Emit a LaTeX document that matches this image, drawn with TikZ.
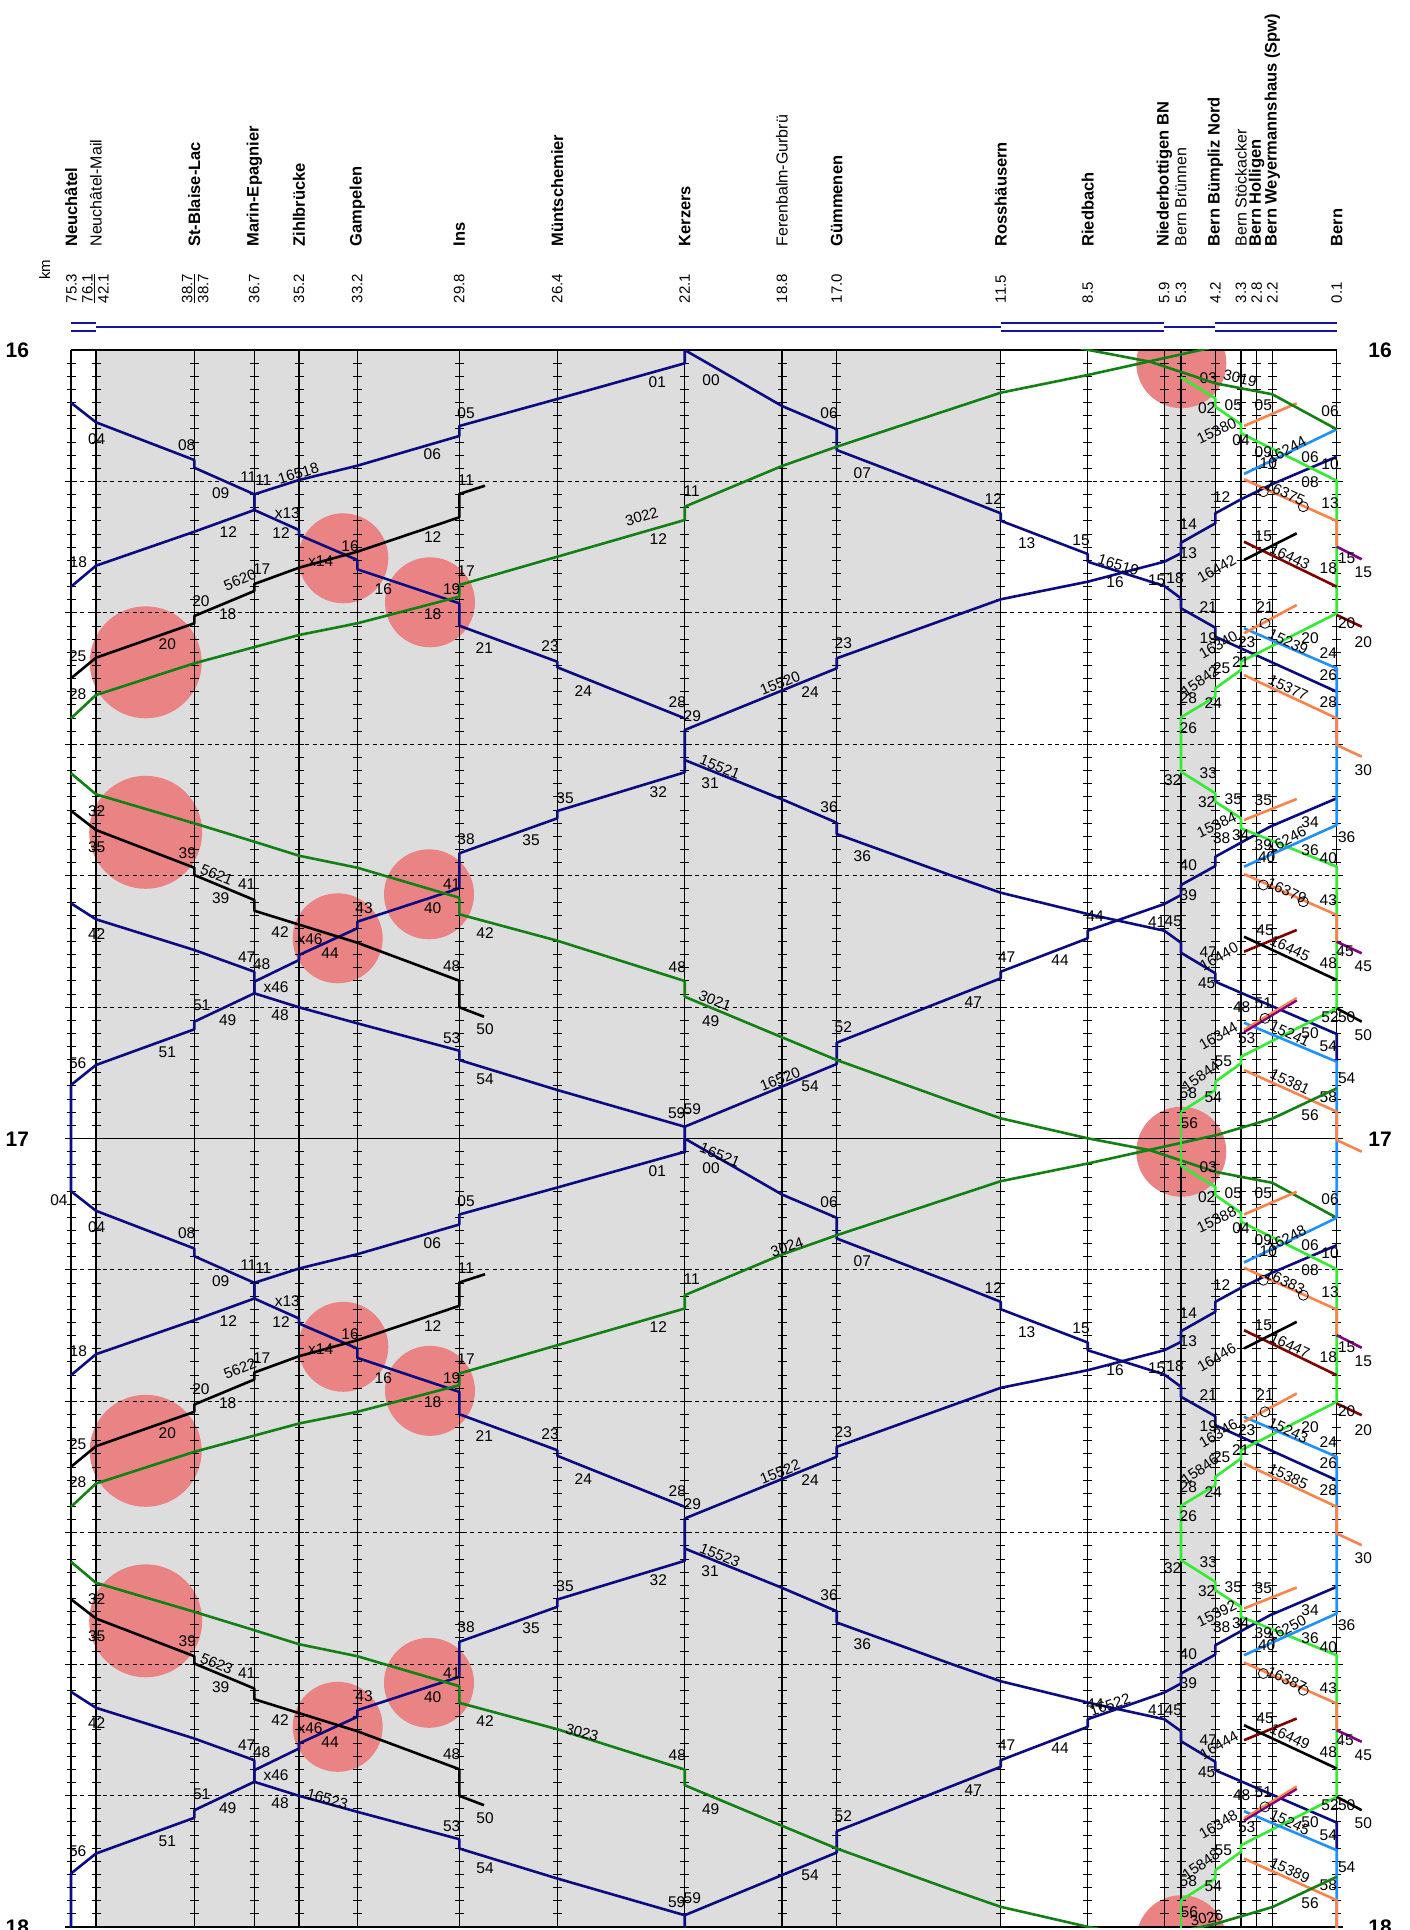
\documentclass[tikz,border=0pt]{standalone}
\usepackage{fontspec}
\setmainfont{Liberation Sans}
\usetikzlibrary{positioning}

\definecolor{rnavy}{RGB}{12,12,128}
\definecolor{ricgreen}{RGB}{18,128,18}
\definecolor{rlime}{RGB}{50,235,50}
\definecolor{rsky}{RGB}{30,144,255}
\definecolor{rcoral}{RGB}{250,130,75}
\definecolor{rmaroon}{RGB}{128,0,0}
\definecolor{rpurple}{RGB}{128,0,128}
\definecolor{rgrey}{RGB}{221,221,221}
\definecolor{rsalmon}{RGB}{234,132,132}
\definecolor{rtrack}{RGB}{20,20,160}

\begin{document}
\begin{tikzpicture}[x=1pt,y=-1pt,
  stnline/.style={line width=1.1pt,black},
  tickln/.style={line width=0.9pt,black},
  gridd/.style={line width=0.9pt,black,dash pattern=on 4pt off 3.5pt},
  hourln/.style={line width=1.1pt,black},
  trackln/.style={line width=1.8pt,rtrack},
  train/.style={line width=2.6pt,line join=round},
  reg/.style={train,draw=rnavy},
  ic/.style={train,draw=ricgreen},
  sbn/.style={train,draw=black},
  limeln/.style={train,draw=rlime},
  skyln/.style={train,draw=rsky},
  corln/.style={train,draw=rcoral},
  marln/.style={train,draw=rmaroon},
  purln/.style={train,draw=rpurple},
  ringst/.style={draw=black,line width=0.8pt},
  stn/.style={rotate=90,anchor=west,inner sep=0pt,font=\fontsize{16.5}{18}\selectfont\bfseries},
  stl/.style={stn,font=\fontsize{16}{18}\selectfont},
  kmv/.style={rotate=90,anchor=west,inner sep=0pt,align=left,font=\fontsize{15}{16}\selectfont},
  mn/.style={inner sep=0pt,font=\fontsize{15.5}{17}\selectfont},
  trn/.style={inner sep=0pt,font=\fontsize{15}{17}\selectfont},
  hr/.style={inner sep=0pt,font=\fontsize{21}{24}\selectfont\bfseries}]
\useasboundingbox (0,0) rectangle (1409,1930);

% station names
\node[stn] (nNE) at (71,246.7) {Neuchâtel};
\node[stl] (nNM) at (96,246.7) {Neuchâtel-Mail};
\node[stn] (nSB) at (194.3,246.7) {St-Blaise-Lac};
\node[stn] (nME) at (254.3,246.7) {Marin-Epagnier};
\node[stn] (nZB) at (299,246.7) {Zihlbrücke};
\node[stn] (nGA) at (357.3,246.7) {Gampelen};
\node[stn] (nIN) at (459.3,246.7) {Ins};
\node[stn] (nMU) at (557.3,246.7) {Müntschemier};
\node[stn] (nKE) at (684.7,246.7) {Kerzers};
\node[stl] (nFG) at (782,246.7) {Ferenbalm-Gurbrü};
\node[stn] (nGU) at (836.7,246.7) {Gümmenen};
\node[stn] (nRO) at (1000.7,246.7) {Rosshäusern};
\node[stn] (nRI) at (1087.7,246.7) {Riedbach};
\node[stn] (nNB) at (1164.3,246.7) {Niederbottigen BN};
\node[stl] (nBB) at (1181,246.7) {Bern Brünnen};
\node[stn] (nBN) at (1215.3,246.7) {Bern Bümpliz Nord};
\node[stl] (nST) at (1241,246.7) {Bern Stöckacker};
\node[stn] (nHO) at (1256.7,246.7) {Bern Holligen};
\node[stn] (nWE) at (1272.3,246.7) {Bern Weyermannshaus (Spw)};
\node[stn] (nBE) at (1336.7,246.7) {Bern};

% km
\node[kmv] (kmlabel) at (44.6,280) {km};
\node[kmv] (kNE) at (87.5,303.3) {75.3\\\underline{76.1}\\42.1};
\node[kmv] (kSB) at (195.2,303.3) {\underline{38.7}\\38.7};
\node[kmv] (kME) at (254.3,303.3) {36.7};
\node[kmv] (kZB) at (299,303.3) {35.2};
\node[kmv] (kGA) at (357.3,303.3) {33.2};
\node[kmv] (kIN) at (459.3,303.3) {29.8};
\node[kmv] (kMU) at (557.3,303.3) {26.4};
\node[kmv] (kKE) at (684.7,303.3) {22.1};
\node[kmv] (kFG) at (782,303.3) {18.8};
\node[kmv] (kGU) at (836.7,303.3) {17.0};
\node[kmv] (kRO) at (1000.7,303.3) {11.5};
\node[kmv] (kRI) at (1087.7,303.3) {8.5};
\node[kmv] (kNB) at (1164.3,303.3) {5.9};
\node[kmv] (kBB) at (1181,303.3) {5.3};
\node[kmv] (kBN) at (1215.3,303.3) {4.2};
\node[kmv] (kST) at (1241,303.3) {3.3};
\node[kmv] (kHO) at (1256.7,303.3) {2.8};
\node[kmv] (kWE) at (1272.3,303.3) {2.2};
\node[kmv] (kBE) at (1336.7,303.3) {0.1};

% tracks
\draw[trackln] (71,323.3) -- (96,323.3) (71,331) -- (96,331);
\draw[trackln] (96,326.7) -- (1000.7,326.7);
\draw[trackln] (1000.7,323.3) -- (1164.3,323.3) (1000.7,331) -- (1164.3,331);
\draw[trackln] (1164.3,326.7) -- (1215.3,326.7);
\draw[trackln] (1215.3,323.3) -- (1336.7,323.3) (1215.3,331) -- (1336.7,331);

% shading
\fill[rgrey] (96,350) rectangle (1000.7,1927);
\fill[rgrey] (1164.3,350) rectangle (1215.3,1927);

% crossing circles
\begin{scope}
\clip (40,350) rectangle (1409,1927);
\foreach \h in {0,1}{
  \begin{scope}[yshift=-\h*788.5pt]
  \fill[rsalmon] (343.3,558.3) circle[radius=45];
  \fill[rsalmon] (430,602.3) circle[radius=45];
  \fill[rsalmon] (145.7,662.3) circle[radius=56];
  \fill[rsalmon] (145.7,832.3) circle[radius=56.5];
  \fill[rsalmon] (337.7,938.3) circle[radius=45];
  \fill[rsalmon] (429,894.3) circle[radius=45];
  \end{scope}}
\fill[rsalmon] (1181.3,363.2) circle[radius=45];
\fill[rsalmon] (1181.3,1151.7) circle[radius=45];
\fill[rsalmon] (1181.3,1940.2) circle[radius=45];
\end{scope}

% grid
\foreach \x in {71,96,194.3,254.3,299,357.3,459.3,557.3,684.7,782,836.7,1000.7,1087.7,1164.3,1181,1215.3,1241,1256.7,1272.3,1336.7}{
  \draw[stnline] (\x,350) -- (\x,1927);
  \draw[tickln] \foreach \m in {1,...,119}{ ({\x-4.5},{350+\m*13.1417}) -- ++(9,0) };
}
\foreach \k in {1,2,3,4,5,7,8,9,10,11}
  \draw[gridd] (65,{350+\k*131.417}) -- (1343,{350+\k*131.417});
\draw[hourln] (71,350) -- (1336.7,350);
\draw[hourln] (65,1138.5) -- (1343,1138.5);
\draw[hourln] (65,1927) -- (1343,1927);

\node[hr] (h16l) at (17.3,350.7) {16};
\node[hr] (h16r) at (1380,350.7) {16};
\node[hr] (h17l) at (17.3,1139.3) {17};
\node[hr] (h17r) at (1380,1139.3) {17};
\node[hr] (h18l) at (17.3,1927) {18};
\node[hr] (h18r) at (1380,1927) {18};

% trains
\begin{scope}
\clip (40,349) rectangle (1409,1927);
\foreach \h in {0,1}{
\begin{scope}[yshift=-\h*788.5pt]
% regional, Neuchatel - Kerzers - Bern
\draw[reg] (71,402.7) -- (96,422.3) -- (194.3,460) -- (194.3,467.7) -- (254.3,494.3) -- (254.3,510) -- (299,530) -- (299,535) -- (357.3,560) -- (357.3,569.3) -- (459.3,603.3) -- (459.3,625.7) -- (557.3,661.7) -- (557.3,667.3) -- (684.7,718.3);
\draw[reg] (684.7,350) -- (684.7,363.3) -- (557.3,399) -- (459.3,426) -- (459.3,436) -- (357.3,465.7) -- (299,480) -- (254.3,494.3) -- (254.3,510) -- (194.3,531.7) -- (96,565.7) -- (71,586.7);
\draw[reg] (684.7,350) -- (782,406) -- (836.7,429.3) -- (836.7,450) -- (950,493.3) -- (1000.7,513.3) -- (1000.7,520.7) -- (1087.7,554) -- (1087.7,561.7) -- (1164.3,586) -- (1181,598.3) -- (1181,608.3) -- (1215.3,627.7) -- (1215.3,636.7) -- (1336.7,691.7);
\draw[reg] (1336.7,456.7) -- (1272.5,484) -- (1241,499.3) -- (1215.3,513.3) -- (1215.3,523.3) -- (1181,542.7) -- (1181,553.3) -- (1164.3,561.7) -- (1087.7,581.7) -- (1000.7,599.3) -- (836.7,658.3) -- (836.7,668.3) -- (684.7,730) -- (684.7,760) -- (782,799.3) -- (836.7,822.7) -- (836.7,834) -- (950,875) -- (1000.7,892.7) -- (1087.7,914) -- (1164.3,930.7) -- (1181,942.7) -- (1181,952.7) -- (1215.3,973.3) -- (1215.3,981.7) -- (1336.7,1034) -- (1336.7,1061.7);
\draw[reg] (71,903.3) -- (96,919.3) -- (194.3,950) -- (254.3,971.7) -- (254.3,993.3) -- (299,1007.3) -- (357.3,1023.3) -- (459.3,1050.7) -- (459.3,1060) -- (557.3,1090) -- (684.7,1126.7) -- (684.7,1153.3);
\draw[reg] (684.7,760) -- (684.7,772.3) -- (557.3,811) -- (557.3,818.3) -- (459.3,853.3) -- (459.3,888.3) -- (357.3,921.7) -- (357.3,928.3) -- (299,955) -- (299,960) -- (254.3,981.7) -- (254.3,993.3) -- (194.3,1021.7) -- (194.3,1029.3) -- (96,1065) -- (71,1085) -- (71,1191.2);
\draw[reg] (1336.7,798.3) -- (1270,826.7) -- (1215.3,856.7) -- (1215.3,866) -- (1181,885) -- (1181,895) -- (1164.3,904) -- (1087.7,930.7) -- (1087.7,938.3) -- (1000.7,971.7) -- (1000.7,978.3) -- (836.7,1042.7) -- (836.7,1064) -- (684.7,1126.7);
% S5 Ins - Neuchatel
\draw[sbn] (485,485.7) -- (459.3,494) -- (459.3,517.3) -- (357.3,551.7) -- (299,567.7) -- (254.3,584) -- (254.3,591) -- (194.3,616) -- (194.3,623.3) -- (96,657.7) -- (71,678.3);
\draw[sbn] (71,810.7) -- (96,830) -- (194.3,867.7) -- (194.3,875) -- (254.3,900) -- (254.3,910.7) -- (357.3,942.7) -- (459.3,980.7) -- (459.3,1007.3) -- (484,1016.7);
% IC
\draw[ic] (1336.7,299.8) -- (1272.5,330) -- (1216.7,346.5) -- (1087.7,375) -- (1000.7,392.7) -- (836.7,446.7) -- (782,466) -- (684.7,506.7) -- (684.7,520) -- (557.3,556.7) -- (459.3,585) -- (459.3,596.7) -- (357.3,623.3) -- (299,635) -- (194.3,663.3) -- (96,695) -- (71,718.3);
\draw[ic] (71,773.3) -- (96,794.3) -- (194.3,823.3) -- (254.3,841.7) -- (299,855.7) -- (357.3,867.7) -- (459.3,897.7) -- (459.3,914.3) -- (557.3,940.7) -- (684.7,981) -- (684.7,996.7) -- (782,1037.3) -- (836.7,1060) -- (950,1100.7) -- (1000.7,1118.3) -- (1087.7,1138.3) -- (1150,1150.2) -- (1215.3,1171.8) -- (1272.3,1182.8) -- (1336.7,1217.8);
% S-Bahn Bern
\draw[limeln] (1181,377.3) -- (1215.3,398.3) -- (1215.3,406.7) -- (1241,424.3) -- (1241,433.3) -- (1336.7,480.7) -- (1336.7,613.3) -- (1241,661.7) -- (1241,670) -- (1215.3,688.3) -- (1215.3,696.7) -- (1181,717.3) -- (1181,771.7) -- (1215.3,793.3) -- (1215.3,801.7) -- (1241,818.3) -- (1241,828.3) -- (1336.7,866.7) -- (1336.7,1008.3) -- (1241,1056.7) -- (1241,1063.3) -- (1215.3,1081.7) -- (1215.3,1090) -- (1181,1111.7);
\draw[skyln] (1336.7,429.3) -- (1244,474);
\draw[skyln] (1244,628.3) -- (1336.7,668.3) -- (1336.7,825) -- (1244,866.7);
\draw[skyln] (1244,1022.7) -- (1336.7,1061.7) -- (1336.7,1217.8);
\draw[corln] (1244,426) -- (1296.7,403.3);
\draw[corln] (1244,479.3) -- (1336.7,521) -- (1336.7,546.7);
\draw[corln] (1244,633.3) -- (1296.7,605);
\draw[corln] (1244,675) -- (1336.7,718.3) -- (1336.7,745) -- (1361.7,756.7);
\draw[corln] (1244,820) -- (1296.7,799);
\draw[corln] (1244,874) -- (1336.7,915) -- (1336.7,941.7);
\draw[purln] (1244,1032) -- (1296.7,1000.3);
\draw[corln,line width=2pt] (1244,1029.5) -- (1296.7,997.8);
\draw[corln] (1244,1070) -- (1336.7,1111.7) -- (1336.7,1140) -- (1361.7,1151.7);
\draw[purln] (1336.7,546.7) -- (1361.7,559.3);
\draw[purln] (1336.7,941.7) -- (1361.7,953.3);
\draw[marln] (1244,541.7) -- (1336.7,586.7);
\draw[marln] (1336.7,615) -- (1361.7,626.7);
\draw[marln] (1244,951.7) -- (1296.7,930);
\draw[sbn] (1244,560) -- (1296.7,533.3);
\draw[sbn] (1244,936.7) -- (1336.7,980);
\draw[sbn] (1336.7,1008.3) -- (1361.7,1021.7);
\foreach \x/\y in {1263.3/491.7,1303.3/506.7,1265/623.3,1263.3/885,1303.3/901.7,1265/1018.3}
  \draw[ringst] (\x,\y) circle[radius=5];
% minutes
\foreach \x/\y/\lbl [count=\i] in {96.7/439/04,186.7/445/08,248.3/476.7/11,263.3/480/11,220.7/492.7/09,287.3/512.7/x13,228.3/532.3/12,281/533.3/12,350/546/16,432.7/537.3/12,466/412.7/05,432.3/454.3/06,466/480/11,78.3/562.3/18,320.7/560.7/x14,261.7/569.3/17,383.3/589.3/16,466/570.7/17,451.7/589.3/19,201/600.7/20,227.7/614.3/18,432.7/614/18,484.3/647.7/21,167.3/644.3/20,77.7/655.7/25,77.7/694/28,
657.3/382.3/01,711/380/00,829/413.3/06,862.3/472.7/07,691.7/491/11,658.3/539/12,550/646/23,583.3/690.7/24,677.3/702.3/28,692.3/715.7/29,810/691.7/24,843.3/643.3/23,710/782.7/31,
993.3/499.3/12,1026.7/543.3/13,1081/540/15,1115/581.7/16,1156.7/580/15,1175/577.7/18,1188.3/524.3/14,1188.3/552.7/13,1208.3/607/21,
1208.3/378.3/03,1206.7/408.3/02,1233.3/405/05,1263.3/405/05,1330/411/06,1241/440/04,1263.3/452/09,1268.3/463/10,1310/456.7/06,1330/464.3/10,1310/481.7/08,1330/503.3/13,1221.7/496.7/12,1263.3/536.7/15,1328.3/568.3/18,1346.7/558.3/15,1363.3/572.3/15,1265/606.7/21,1346.7/622.7/20,1363.3/641.7/20,1208.3/637.7/19,1246.7/641.7/23,1310/638.3/20,1328.3/653.3/24,1221.7/668.3/25,1240.7/661.7/21,1328.3/675/26,1188.3/698.3/28,1213.3/703.3/24,1328.3/701.7/28,1188.3/727.7/26,1363.3/770/30,
1172.7/780/32,1208.3/773.3/33,1206.7/802.3/32,1233.3/799/35,1263.3/800/35,1221.7/838.3/38,1240.7/835/34,1310/821.7/34,1346.7/836.7/36,1263.3/845/39,1266.7/856.7/40,1310/850/36,1328.3/858.3/40,1188.3/865.5/40,1188.3/895/39,1156.7/921.7/41,1173.3/921.7/45,1328.3/900/43,1265/930/45,1208.3/951.7/47,1328.3/963.3/48,1345/951.7/45,1363.3/966.7/45,1206.7/983.3/45,1241.7/1006.7/48,1263.3/1003.3/51,1330/1016.7/52,1346.7/1016.7/50,1363.3/1035/50,1246.7/1038.3/53,1310/1033.3/50,1328.3/1046.7/54,1223.3/1061.7/55,1346.7/1078.3/54,1188.3/1092.7/58,1213.3/1097.3/54,1328.3/1096.7/58,1310/1115/56,1189.3/1123.3/56,
1095/916/44,1006.7/956.7/47,1060/960/44,973.3/1001.7/47,
565/797.7/35,531/840/35,658.3/791.7/32,829/806.7/36,862.3/855.7/36,677.3/966.7/48,710.7/1020.7/49,843.3/1027.3/52,810/1086.7/54,676.7/1113.3/59,692.3/1109.3/59,485/1079.3/54,485/1029.3/50,451.7/1037.7/53,
96.7/811/32,96.7/847.3/35,187.3/852.7/39,246.7/884.3/41,220.7/898.3/39,96.7/934.3/42,280/931.7/42,310/939.3/x46,364/907.7/43,330/953.3/44,246.7/956.7/47,261.7/964/48,276/986.7/x46,201.7/1005.7/51,227.7/1020/49,280/1015/48,167.3/1052.3/51,77.7/1062.7/56,466/839/38,451.7/884.3/41,432.7/908.3/40,485/932.7/42,451.7/965.7/48}
  \node[mn] (m\h-\i) at (\x,\y) {\lbl};
\end{scope}}
% from the hour before and after
\draw[ic] (1000.7,329.8) -- (1087.7,349.8) -- (1150,361.7) -- (1215.3,383.3) -- (1272.3,394.3) -- (1336.7,429.3);
\draw[ic] (1336.7,1876.8) -- (1272.5,1907) -- (1216.7,1923.5) -- (1087.7,1952);
\draw[limeln] (1181,1111.7) -- (1181,1165.8);
\draw[limeln] (1181,1900.2) -- (1181,1935);
\node[mn] (m04x) at (59,1200) {04};
% train numbers 16
\node[trn,rotate=17] (t16518) at (298.3,473.3) {16518};
\node[trn,rotate=22] (t5620) at (240,580) {5620};
\node[trn,rotate=16] (t3022) at (641.7,516.7) {3022};
\node[trn,rotate=22] (t15520) at (780,683.3) {15520};
\node[trn,rotate=-22] (t15521) at (720,767) {15521};
\node[trn,rotate=-17] (t16519) at (1118.3,565) {16519};
\node[trn,rotate=-12] (t3019) at (1240,378.3) {3019};
\node[trn,rotate=25] (t15380) at (1216.7,431) {15380};
\node[trn,rotate=28] (t16244) at (1286.7,450) {16244};
\node[trn,rotate=-25] (t16375) at (1285,493) {16375};
\node[trn,rotate=30] (t16442) at (1216.7,569) {16442};
\node[trn,rotate=-25] (t16443) at (1290,556.7) {16443};
\node[trn,rotate=30] (t16340) at (1218.3,645) {16340};
\node[trn,rotate=-25] (t15239) at (1288.3,642) {15239};
\node[trn,rotate=35] (t15842) at (1200,681) {15842};
\node[trn,rotate=-25] (t15377) at (1288.3,688) {15377};
\node[trn,rotate=25] (t15384) at (1216.7,825) {15384};
\node[trn,rotate=28] (t16246) at (1286.7,840) {16246};
\node[trn,rotate=-25] (t16379) at (1286.7,891) {16379};
\node[trn,rotate=30] (t16440) at (1219,956.7) {16440};
\node[trn,rotate=-25] (t16445) at (1290,948.3) {16445};
\node[trn,rotate=30] (t16344) at (1218.3,1036) {16344};
\node[trn,rotate=-25] (t15241) at (1290,1034) {15241};
\node[trn,rotate=35] (t15844) at (1201,1076) {15844};
\node[trn,rotate=-25] (t15381) at (1290,1081.7) {15381};
\node[trn,rotate=-22] (t5621) at (216.7,875) {5621};
\node[trn,rotate=-22] (t3021) at (715,1000.7) {3021};
\node[trn,rotate=22] (t16520) at (780,1079.3) {16520};
% train numbers 17
\node[trn,rotate=-22] (t16521) at (720,1155) {16521};
\node[trn,rotate=22] (t5622) at (240,1368.5) {5622};
\node[trn,rotate=19] (t3024) at (787,1247) {3024};
\node[trn,rotate=22] (t15522) at (780,1471.8) {15522};
\node[trn,rotate=-22] (t15523) at (720,1555.5) {15523};
\node[trn,rotate=19] (t16522) at (1110,1705) {16522};
\node[trn,rotate=-15] (t16523) at (327.3,1799) {16523};
\node[trn,rotate=-22] (t5623) at (216.7,1663.5) {5623};
\node[trn,rotate=-15] (t3023) at (582,1732.7) {3023};
\node[trn,rotate=13] (t3026) at (1206.7,1918) {3026};
\node[trn,rotate=25] (t15388) at (1216.7,1219.5) {15388};
\node[trn,rotate=28] (t16248) at (1286.7,1238.5) {16248};
\node[trn,rotate=-25] (t16383) at (1285,1281.5) {16383};
\node[trn,rotate=30] (t16446) at (1216.7,1357.5) {16446};
\node[trn,rotate=-25] (t16447) at (1290,1345.2) {16447};
\node[trn,rotate=30] (t16346) at (1218.3,1433.5) {16346};
\node[trn,rotate=-25] (t15243) at (1288.3,1430.5) {15243};
\node[trn,rotate=35] (t15846) at (1200,1469.5) {15846};
\node[trn,rotate=-25] (t15385) at (1288.3,1476.5) {15385};
\node[trn,rotate=25] (t15392) at (1216.7,1613.5) {15392};
\node[trn,rotate=28] (t16250) at (1286.7,1628.5) {16250};
\node[trn,rotate=-25] (t16387) at (1286.7,1679.5) {16387};
\node[trn,rotate=30] (t16444) at (1219,1745.2) {16444};
\node[trn,rotate=-25] (t16449) at (1290,1736.8) {16449};
\node[trn,rotate=30] (t16348) at (1218.3,1824.5) {16348};
\node[trn,rotate=-25] (t15245) at (1290,1822.5) {15245};
\node[trn,rotate=35] (t15848) at (1201,1864.5) {15848};
\node[trn,rotate=-25] (t15389) at (1290,1870.2) {15389};
\end{scope}
\end{tikzpicture}
\end{document}
